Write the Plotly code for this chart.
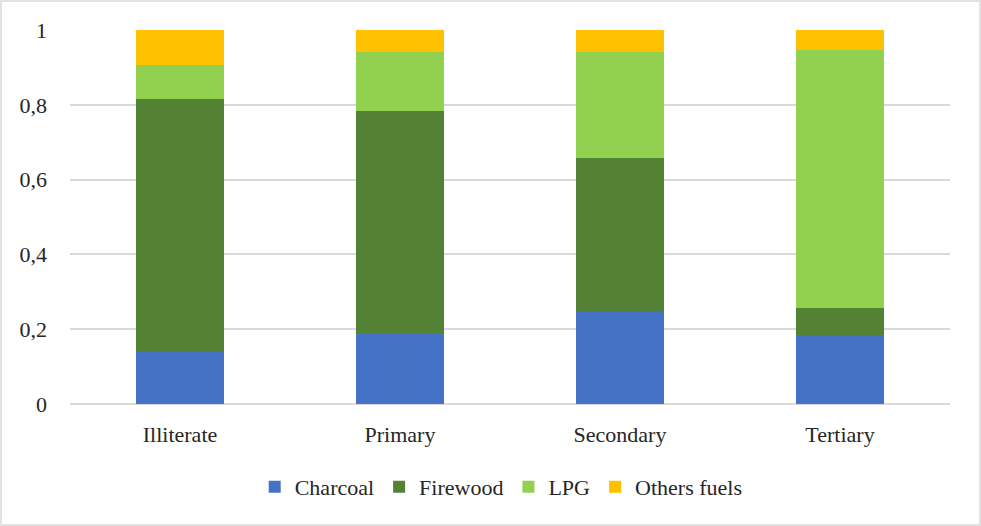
import plotly.graph_objects as go

categories = ["Illiterate", "Primary", "Secondary", "Tertiary"]
charcoal = [0.143, 0.189, 0.250, 0.184]
firewood = [0.672, 0.595, 0.408, 0.072]
lpg = [0.091, 0.157, 0.283, 0.691]
others = [0.094, 0.059, 0.059, 0.053]

series = [
    ("Charcoal", charcoal, "#4472C4"),
    ("Firewood", firewood, "#548235"),
    ("LPG", lpg, "#92D050"),
    ("Others fuels", others, "#FFC000"),
]

tick_vals = [0, 0.2, 0.4, 0.6, 0.8, 1]
tick_text = ["0", "0,2", "0,4", "0,6", "0,8", "1"]

FONT = "Liberation Serif, DejaVu Serif, serif"
TXT = "#262626"

fig = go.Figure()
for name, vals, color in series:
    fig.add_trace(go.Bar(
        x=categories, y=vals, name=name,
        marker=dict(color=color, line=dict(width=0)),
    ))

fig.update_layout(
    barmode="stack",
    bargap=0.6,
    width=981, height=526,
    margin=dict(l=70, r=31, t=30, b=122),
    paper_bgcolor="white",
    plot_bgcolor="white",
    font=dict(family=FONT, size=22, color=TXT),
    legend=dict(
        orientation="h", x=0.49, xanchor="center", y=-0.222, yanchor="middle",
        font=dict(family=FONT, size=22, color=TXT),
        itemwidth=30, traceorder="normal",
    ),
    xaxis=dict(
        showgrid=False, showline=False, ticks="",
        tickfont=dict(family=FONT, size=22, color=TXT),
        ticklabelstandoff=15,
    ),
    yaxis=dict(
        range=[0, 1], tickvals=tick_vals, ticktext=tick_text,
        showgrid=True, gridcolor="#d9d9d9", gridwidth=1.5,
        zeroline=True, zerolinecolor="#d9d9d9", zerolinewidth=1.5,
        showline=False, ticks="",
        tickfont=dict(family=FONT, size=22, color=TXT),
        ticklabelstandoff=22,
    ),
    shapes=[dict(
        type="rect", xref="paper", yref="paper",
        x0=-69/880, x1=(880+30)/880, y0=-(121)/374, y1=(374+29)/374,
        line=dict(color="#d9d9d9", width=1.5), fillcolor="rgba(0,0,0,0)",
        layer="below",
    )],
)

fig.write_html(
    "out.html",
    config={"displayModeBar": False},
    post_script="document.body.style.margin='0';document.body.style.overflow='hidden';",
)
